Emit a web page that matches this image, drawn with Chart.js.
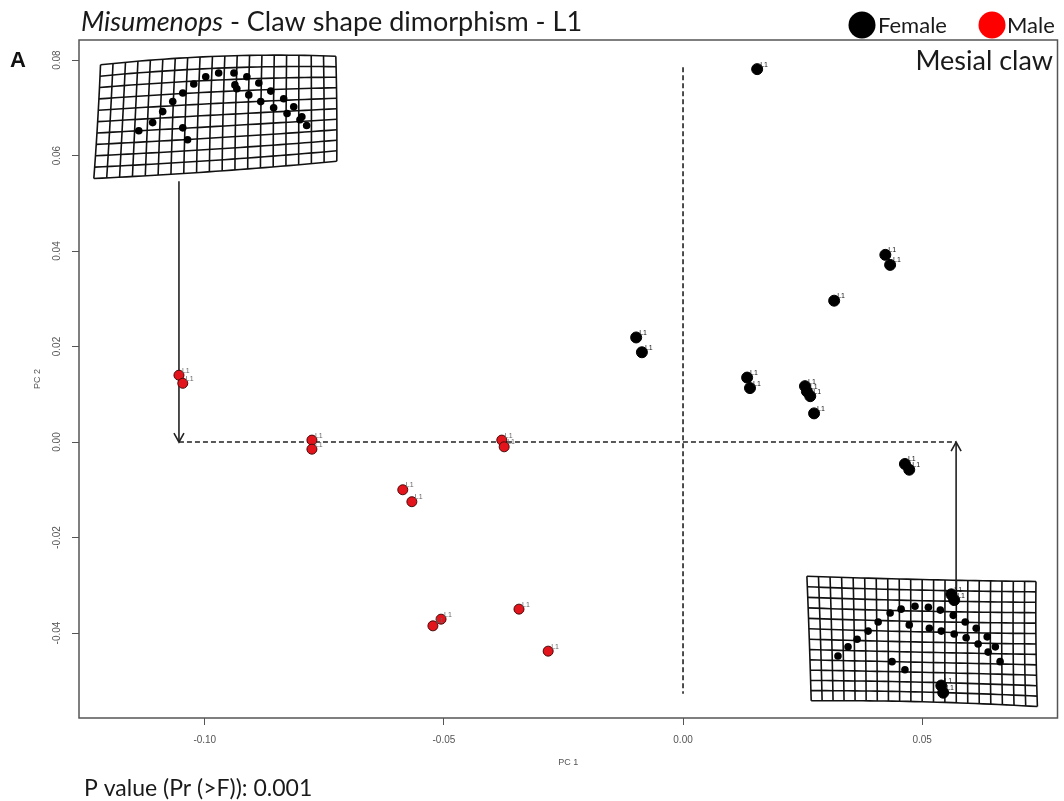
<!DOCTYPE html>
<html>
<head>
<meta charset="utf-8">
<script src="https://cdn.jsdelivr.net/npm/chart.js@4/dist/chart.umd.min.js"></script>
<style>
  html, body { margin: 0; padding: 0; background: #ffffff; }
  #wrap { position: relative; width: 1064px; height: 801px; }
</style>
</head>
<body>
<div id="wrap"><canvas id="c" width="1064" height="801"></canvas></div>
<script>
// PCA scores (PC1, PC2) per specimen, claw shape of leg 1
const PC1_FEMALE = [0.0155, -0.0098, -0.0086, 0.0134, 0.0140, 0.0255, 0.0259, 0.0266, 0.0274, 0.0316, 0.0423, 0.0433, 0.0464, 0.0473, 0.0561, 0.0567, 0.0540, 0.0544];
const PC2_FEMALE = [0.0781, 0.0219, 0.0188, 0.0135, 0.0113, 0.0117, 0.0106, 0.0096, 0.0060, 0.0296, 0.0392, 0.0371, -0.0046, -0.0058, -0.0319, -0.0331, -0.0510, -0.0525];
const PC1_MALE = [-0.1054, -0.1046, -0.0776, -0.0776, -0.0379, -0.0374, -0.0586, -0.0567, -0.0523, -0.0506, -0.0343, -0.0282];
const PC2_MALE = [0.0140, 0.0123, 0.0004, -0.0015, 0.0004, -0.0010, -0.0100, -0.0125, -0.0385, -0.0371, -0.0350, -0.0438];
const POINT_LABEL = 'L1';

const X_TICKS = [-0.10, -0.05, 0.00, 0.05];
const Y_TICKS = [-0.04, -0.02, 0.00, 0.02, 0.04, 0.06, 0.08];
const X_RANGE = [-0.1263, 0.0783];
const Y_RANGE = [-0.0578, 0.0842];

// Reference lines through the origin and the arrows to the extreme shapes
const ORIGIN_V = { x: 0, y0: 0.0785, y1: -0.0527 };
const ORIGIN_H = { y: 0, x0: -0.1054, x1: 0.0571 };
const ARROW_MIN = { x: -0.1054, from: 0.0546, to: 0 };
const ARROW_MAX = { x: 0.0571, from: -0.0308, to: 0 };

// Thin-plate spline deformation grids: 3x3 control nets (row-major, top row first)
const MIN_NET_X = [-0.1218, -0.0971, -0.0726, -0.1224, -0.0975, -0.0724, -0.1232, -0.0977, -0.0724];
const MIN_NET_Y = [0.0790, 0.0808, 0.0808, 0.0671, 0.0685, 0.0698, 0.0552, 0.0567, 0.0588];
const MIN_LM_X = [-0.1138, -0.1109, -0.1088, -0.1067, -0.1046, -0.1023, -0.0998, -0.0971, -0.0939, -0.0912, -0.0887, -0.0862, -0.0835, -0.0814, -0.0797, -0.0801, -0.0787, -0.0828, -0.0856, -0.0883, -0.0908, -0.0933, -0.0937, -0.1046, -0.1036];
const MIN_LM_Y = [0.0652, 0.0669, 0.0692, 0.0713, 0.0731, 0.0750, 0.0765, 0.0773, 0.0773, 0.0765, 0.0752, 0.0735, 0.0719, 0.0702, 0.0681, 0.0675, 0.0663, 0.0688, 0.0700, 0.0713, 0.0727, 0.0740, 0.0748, 0.0658, 0.0633];

const MAX_NET_X = [0.0259, 0.0500, 0.0738, 0.0264, 0.0500, 0.0738, 0.0268, 0.0500, 0.0741];
const MAX_NET_Y = [-0.0281, -0.0288, -0.0292, -0.0413, -0.0419, -0.0423, -0.0542, -0.0544, -0.0554];
const MAX_LM_X = [0.0324, 0.0345, 0.0364, 0.0387, 0.0408, 0.0433, 0.0456, 0.0485, 0.0513, 0.0538, 0.0565, 0.0590, 0.0613, 0.0636, 0.0653, 0.0663, 0.0638, 0.0617, 0.0592, 0.0567, 0.0540, 0.0515, 0.0473, 0.0437, 0.0464];
const MAX_LM_Y = [-0.0448, -0.0429, -0.0413, -0.0396, -0.0377, -0.0358, -0.0350, -0.0344, -0.0346, -0.0352, -0.0363, -0.0377, -0.0390, -0.0408, -0.0429, -0.0460, -0.0440, -0.0423, -0.0410, -0.0402, -0.0396, -0.0390, -0.0383, -0.0460, -0.0477];

const SANS = 'Lato, "Open Sans", sans-serif';
const AXIS_FONT = '"Liberation Sans", Arial, sans-serif';

const toPoints = (xs, ys) => xs.map((x, i) => ({ x: x, y: ys[i] }));

// quadratic Lagrange weights on nodes 0, 0.5, 1
function lagrange(t) {
  return [2 * (t - 0.5) * (t - 1), -4 * t * (t - 1), 2 * t * (t - 0.5)];
}
function netPixel(netX, netY, u, v, sx, sy) {
  const a = lagrange(u), b = lagrange(v);
  let X = 0, Y = 0;
  for (let r = 0; r < 3; r++) {
    for (let c = 0; c < 3; c++) {
      const w = b[r] * a[c];
      X += w * netX[r * 3 + c];
      Y += w * netY[r * 3 + c];
    }
  }
  return [sx.getPixelForValue(X), sy.getPixelForValue(Y)];
}
function drawGrid(ctx, netX, netY, cols, rows, lmX, lmY, sx, sy) {
  ctx.save();
  ctx.strokeStyle = '#111';
  ctx.lineWidth = 1.6;
  const steps = 30;
  for (let i = 0; i <= cols; i++) {
    ctx.beginPath();
    for (let k = 0; k <= steps; k++) {
      const p = netPixel(netX, netY, i / cols, k / steps, sx, sy);
      k === 0 ? ctx.moveTo(p[0], p[1]) : ctx.lineTo(p[0], p[1]);
    }
    ctx.stroke();
  }
  for (let j = 0; j <= rows; j++) {
    ctx.beginPath();
    for (let k = 0; k <= steps; k++) {
      const p = netPixel(netX, netY, k / steps, j / rows, sx, sy);
      k === 0 ? ctx.moveTo(p[0], p[1]) : ctx.lineTo(p[0], p[1]);
    }
    ctx.stroke();
  }
  ctx.fillStyle = '#000';
  for (let i = 0; i < lmX.length; i++) {
    ctx.beginPath();
    ctx.arc(sx.getPixelForValue(lmX[i]), sy.getPixelForValue(lmY[i]), 3.8, 0, Math.PI * 2);
    ctx.fill();
  }
  ctx.restore();
}
function drawArrow(ctx, x, y0, y1) {
  ctx.save();
  ctx.strokeStyle = '#222';
  ctx.lineWidth = 1.6;
  ctx.beginPath();
  ctx.moveTo(x, y0);
  ctx.lineTo(x, y1);
  ctx.stroke();
  const dir = y1 > y0 ? 1 : -1;
  const len = 9, spread = 5;
  ctx.beginPath();
  ctx.moveTo(x - spread, y1 - dir * len);
  ctx.lineTo(x, y1);
  ctx.lineTo(x + spread, y1 - dir * len);
  ctx.stroke();
  ctx.restore();
}

const decorations = {
  id: 'decorations',
  beforeDatasetsDraw(chart) {
    const { ctx, scales: { x: sx, y: sy } } = chart;
    drawGrid(ctx, MIN_NET_X, MIN_NET_Y, 19, 10, MIN_LM_X, MIN_LM_Y, sx, sy);
    drawGrid(ctx, MAX_NET_X, MAX_NET_Y, 20, 12, MAX_LM_X, MAX_LM_Y, sx, sy);

    ctx.save();
    ctx.strokeStyle = '#222';
    ctx.lineWidth = 1.6;
    ctx.setLineDash([5, 3]);
    ctx.beginPath();
    const vx = sx.getPixelForValue(ORIGIN_V.x);
    ctx.moveTo(vx, sy.getPixelForValue(ORIGIN_V.y0));
    ctx.lineTo(vx, sy.getPixelForValue(ORIGIN_V.y1));
    const hy = sy.getPixelForValue(ORIGIN_H.y);
    ctx.moveTo(sx.getPixelForValue(ORIGIN_H.x0), hy);
    ctx.lineTo(sx.getPixelForValue(ORIGIN_H.x1), hy);
    ctx.stroke();
    ctx.restore();

    drawArrow(ctx, sx.getPixelForValue(ARROW_MIN.x), sy.getPixelForValue(ARROW_MIN.from), sy.getPixelForValue(ARROW_MIN.to));
    drawArrow(ctx, sx.getPixelForValue(ARROW_MAX.x), sy.getPixelForValue(ARROW_MAX.from), sy.getPixelForValue(ARROW_MAX.to));
  },
  afterDatasetsDraw(chart) {
    const { ctx, chartArea: a, scales: { x: sx, y: sy } } = chart;
    ctx.save();
    // specimen labels beside each point
    ctx.font = '7px ' + AXIS_FONT;
    ctx.textBaseline = 'bottom';
    chart.data.datasets.forEach((ds, di) => {
      ctx.fillStyle = di === 0 ? '#111' : '#666';
      ds.data.forEach(p => {
        ctx.fillText(POINT_LABEL, sx.getPixelForValue(p.x) + 3, sy.getPixelForValue(p.y) - 1);
      });
    });

    // plot frame
    ctx.strokeStyle = '#555';
    ctx.lineWidth = 1.5;
    ctx.strokeRect(a.left, a.top, a.right - a.left, a.bottom - a.top);

    // y tick labels, rotated
    ctx.fillStyle = '#555';
    ctx.font = '10px ' + AXIS_FONT;
    ctx.textAlign = 'center';
    ctx.textBaseline = 'middle';
    Y_TICKS.forEach(v => {
      ctx.save();
      ctx.translate(57, sy.getPixelForValue(v));
      ctx.rotate(-Math.PI / 2);
      ctx.fillText(v.toFixed(2), 0, 0);
      ctx.restore();
    });
    // axis titles
    ctx.font = '9px ' + AXIS_FONT;
    ctx.fillText('PC 1', (a.left + a.right) / 2, 763);
    ctx.save();
    ctx.translate(38, (a.top + a.bottom) / 2);
    ctx.rotate(-Math.PI / 2);
    ctx.fillText('PC 2', 0, 0);
    ctx.restore();

    // title
    ctx.fillStyle = '#1a1a1a';
    ctx.textAlign = 'left';
    ctx.textBaseline = 'alphabetic';
    ctx.font = 'italic 27px ' + SANS;
    const italicPart = 'Misumenops';
    ctx.fillText(italicPart, 81, 31);
    const w = ctx.measureText(italicPart).width;
    ctx.font = '27px ' + SANS;
    ctx.fillText(' - Claw shape dimorphism - L1', 81 + w, 31);

    // panel letter
    ctx.font = 'bold 22px ' + AXIS_FONT;
    ctx.fillStyle = '#111';
    ctx.fillText('A', 10, 67);

    // legend
    ctx.fillStyle = '#000';
    ctx.beginPath(); ctx.arc(862, 25, 13.5, 0, Math.PI * 2); ctx.fill();
    ctx.fillStyle = '#ff0000';
    ctx.beginPath(); ctx.arc(992, 25, 13.5, 0, Math.PI * 2); ctx.fill();
    ctx.fillStyle = '#1a1a1a';
    ctx.font = '22px ' + SANS;
    ctx.fillText('Female', 878, 33);
    ctx.fillText('Male', 1007, 33);

    // panel caption
    ctx.font = '27px ' + SANS;
    ctx.textAlign = 'right';
    ctx.fillText('Mesial claw', 1053, 70);

    // test result
    ctx.textAlign = 'left';
    ctx.font = '23px ' + SANS;
    ctx.fillText('P value (Pr (>F)): 0.001', 84, 796);
    ctx.restore();
  }
};

new Chart(document.getElementById('c'), {
  type: 'scatter',
  data: {
    datasets: [
      {
        label: 'Female',
        data: toPoints(PC1_FEMALE, PC2_FEMALE),
        backgroundColor: '#000000',
        borderColor: '#000000',
        borderWidth: 1,
        pointRadius: 5.5
      },
      {
        label: 'Male',
        data: toPoints(PC1_MALE, PC2_MALE),
        backgroundColor: '#e3141b',
        borderColor: '#4a0a0a',
        borderWidth: 1,
        pointRadius: 5
      }
    ]
  },
  options: {
    responsive: false,
    animation: false,
    devicePixelRatio: 1,
    layout: { padding: { top: 40, right: 5, left: 0, bottom: 0 } },
    plugins: { legend: { display: false }, tooltip: { enabled: false } },
    scales: {
      x: {
        type: 'linear',
        min: X_RANGE[0],
        max: X_RANGE[1],
        afterBuildTicks: s => { s.ticks = X_TICKS.map(v => ({ value: v })); },
        afterFit: s => { s.height = 83; },
        ticks: {
          callback: v => v.toFixed(2),
          color: '#555',
          font: { family: AXIS_FONT, size: 10 },
          padding: 9,
          maxRotation: 0
        },
        grid: { drawOnChartArea: false, drawTicks: true, tickLength: 7, color: '#555', lineWidth: 1 },
        border: { display: false }
      },
      y: {
        type: 'linear',
        min: Y_RANGE[0],
        max: Y_RANGE[1],
        afterBuildTicks: s => { s.ticks = Y_TICKS.map(v => ({ value: v })); },
        afterFit: s => { s.width = 79; },
        ticks: {
          callback: v => v.toFixed(2),
          color: 'rgba(0,0,0,0)',
          font: { family: AXIS_FONT, size: 10 }
        },
        grid: { drawOnChartArea: false, drawTicks: true, tickLength: 7, color: '#555', lineWidth: 1 },
        border: { display: false }
      }
    }
  },
  plugins: [decorations]
});
</script>
</body>
</html>
